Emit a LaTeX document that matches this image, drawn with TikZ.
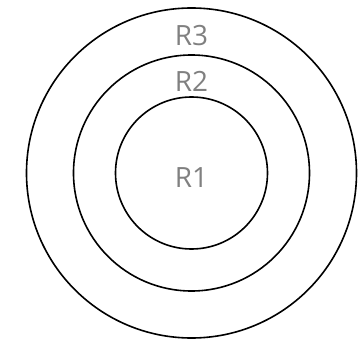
\documentclass[tikz,border=0pt]{standalone}
\usepackage{fontspec}
\setmainfont{Open Sans}
\usetikzlibrary{positioning}
\definecolor{labelgray}{HTML}{808080}

\begin{document}
\begin{tikzpicture}[x=1bp, y=1bp,
  ring/.style={circle,draw,line width=1.6bp,inner sep=0pt},
  rlabel/.style={text=labelgray,font=\fontsize{28}{28}\selectfont,inner sep=0pt}]
  \useasboundingbox (0,0) rectangle (358,339);
  % rings
  \node[ring,minimum size=330bp] (r3) at (191.5,166) {};
  \node[ring,minimum size=236bp] (r2) at (191.5,166) {};
  \node[ring,minimum size=152bp] (r1) at (191.5,166) {};
  % labels
  \node[rlabel] (l1) at (191.5,161) {R1};
  \node[rlabel] (l2) at (191.5,257.5) {R2};
  \node[rlabel] (l3) at (191.5,303.5) {R3};
\end{tikzpicture}
\end{document}
